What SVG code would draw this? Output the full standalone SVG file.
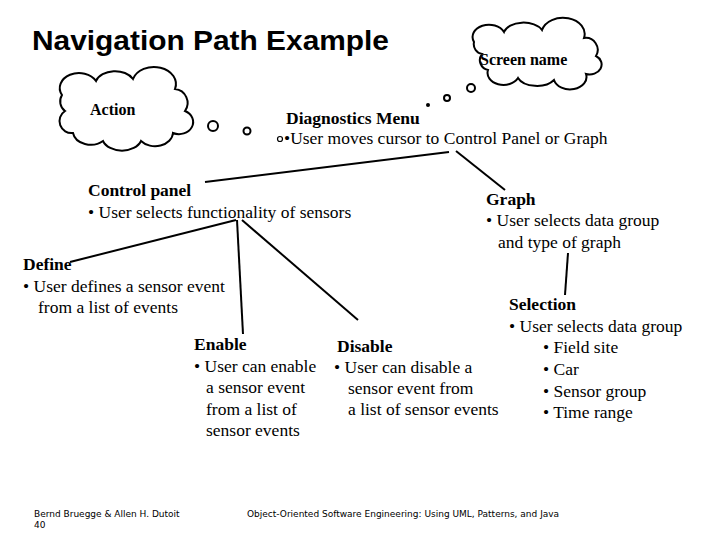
<svg xmlns="http://www.w3.org/2000/svg" width="720" height="540" viewBox="0 0 720 540">
<style>
text{font-family:"Liberation Serif",serif;font-size:17.5px;fill:#000}
.b{font-weight:bold}
.c{fill:#fff;stroke:#000;stroke-width:2}
.l{stroke:#000;stroke-width:2;fill:none}
.f{font-family:"DejaVu Sans",sans-serif;font-size:9px}
</style>
<rect width="720" height="540" fill="#fff"/>
<text x="32" y="50" style="font-family:'Liberation Sans',sans-serif;font-size:28px;font-weight:bold" textLength="357" lengthAdjust="spacingAndGlyphs">Navigation Path Example</text>
<g id="action-cloud">
<path class="c" d="M62,95 a18,14 0 0 1 34,-14 a20,14 0 0 1 37,-2 a18,14 0 0 1 42,10 a14,14 0 0 1 10,22 a14,12 0 0 1 -12,22 a18,14 0 0 1 -32,8 a20,14 0 0 1 -38,0 a18,14 0 0 1 -30,-8 a12,12 0 0 1 -8,-22 a12,12 0 0 1 -3,-16 z"/>
<text x="90" y="115" class="b" style="font-size:16px">Action</text>
</g>
<g id="screen-cloud">
<path class="c" d="M474,42 a16,12 0 0 1 30,-10 a20,12 0 0 1 38,-2 a16,12 0 0 1 42,8 a12,12 0 0 1 12,18 a12,10 0 0 1 -10,18 a16,12 0 0 1 -32,6 a20,12 0 0 1 -36,-2 a16,12 0 0 1 -30,-8 a10,10 0 0 1 -6,-16 a10,10 0 0 1 -8,-12 z"/>
<text x="480" y="65" class="b" style="font-size:16px">Screen name</text>
</g>
<g id="bubbles">
<circle class="c" cx="213" cy="126" r="5"/>
<circle class="c" cx="247" cy="131" r="3.5"/>
<circle cx="428" cy="105" r="2"/>
<circle class="c" cx="447" cy="98" r="3"/>
<circle class="c" cx="471" cy="88" r="4"/>
<circle class="c" cx="280" cy="139" r="2.5" style="stroke-width:1.2"/>
</g>
<g id="connectors">
<line class="l" x1="205" y1="182" x2="449" y2="152"/>
<line class="l" x1="456" y1="151" x2="505" y2="190"/>
<line class="l" x1="70" y1="262" x2="236" y2="220"/>
<line class="l" x1="237" y1="220" x2="243" y2="334"/>
<line class="l" x1="242" y1="220" x2="358" y2="320"/>
<line class="l" x1="568" y1="253" x2="565" y2="295"/>
</g>
<g id="diagnostics">
<text x="286" y="124" class="b">Diagnostics Menu</text>
<text x="284" y="144">•User moves cursor to Control Panel or Graph</text>
</g>
<g id="control-panel">
<text x="88" y="196" class="b">Control panel</text>
<text x="88" y="218">• User selects functionality of sensors</text>
</g>
<g id="graph">
<text x="486" y="205" class="b">Graph</text>
<text x="486" y="226">• User selects data group</text>
<text x="498" y="248">and type of graph</text>
</g>
<g id="define">
<text x="23" y="270" class="b">Define</text>
<text x="23" y="292">• User defines a sensor event</text>
<text x="38" y="313">from a list of events</text>
</g>
<g id="enable">
<text x="194" y="350" class="b">Enable</text>
<text x="194" y="372">• User can enable</text>
<text x="206" y="393">a sensor event</text>
<text x="206" y="415">from a list of</text>
<text x="206" y="436">sensor events</text>
</g>
<g id="disable">
<text x="337" y="352" class="b">Disable</text>
<text x="334" y="373">• User can disable a</text>
<text x="348" y="394">sensor event from</text>
<text x="348" y="415">a list of sensor events</text>
</g>
<g id="selection">
<text x="509" y="310" class="b">Selection</text>
<text x="509" y="332">• User selects data group</text>
<text x="543" y="353">• Field site</text>
<text x="543" y="375">• Car</text>
<text x="543" y="397">• Sensor group</text>
<text x="543" y="418">• Time range</text>
</g>
<text x="34" y="517" class="f">Bernd Bruegge &amp; Allen H. Dutoit</text>
<text x="34" y="528" class="f">40</text>
<text x="247" y="517" class="f">Object-Oriented Software Engineering: Using UML, Patterns, and Java</text>
</svg>
